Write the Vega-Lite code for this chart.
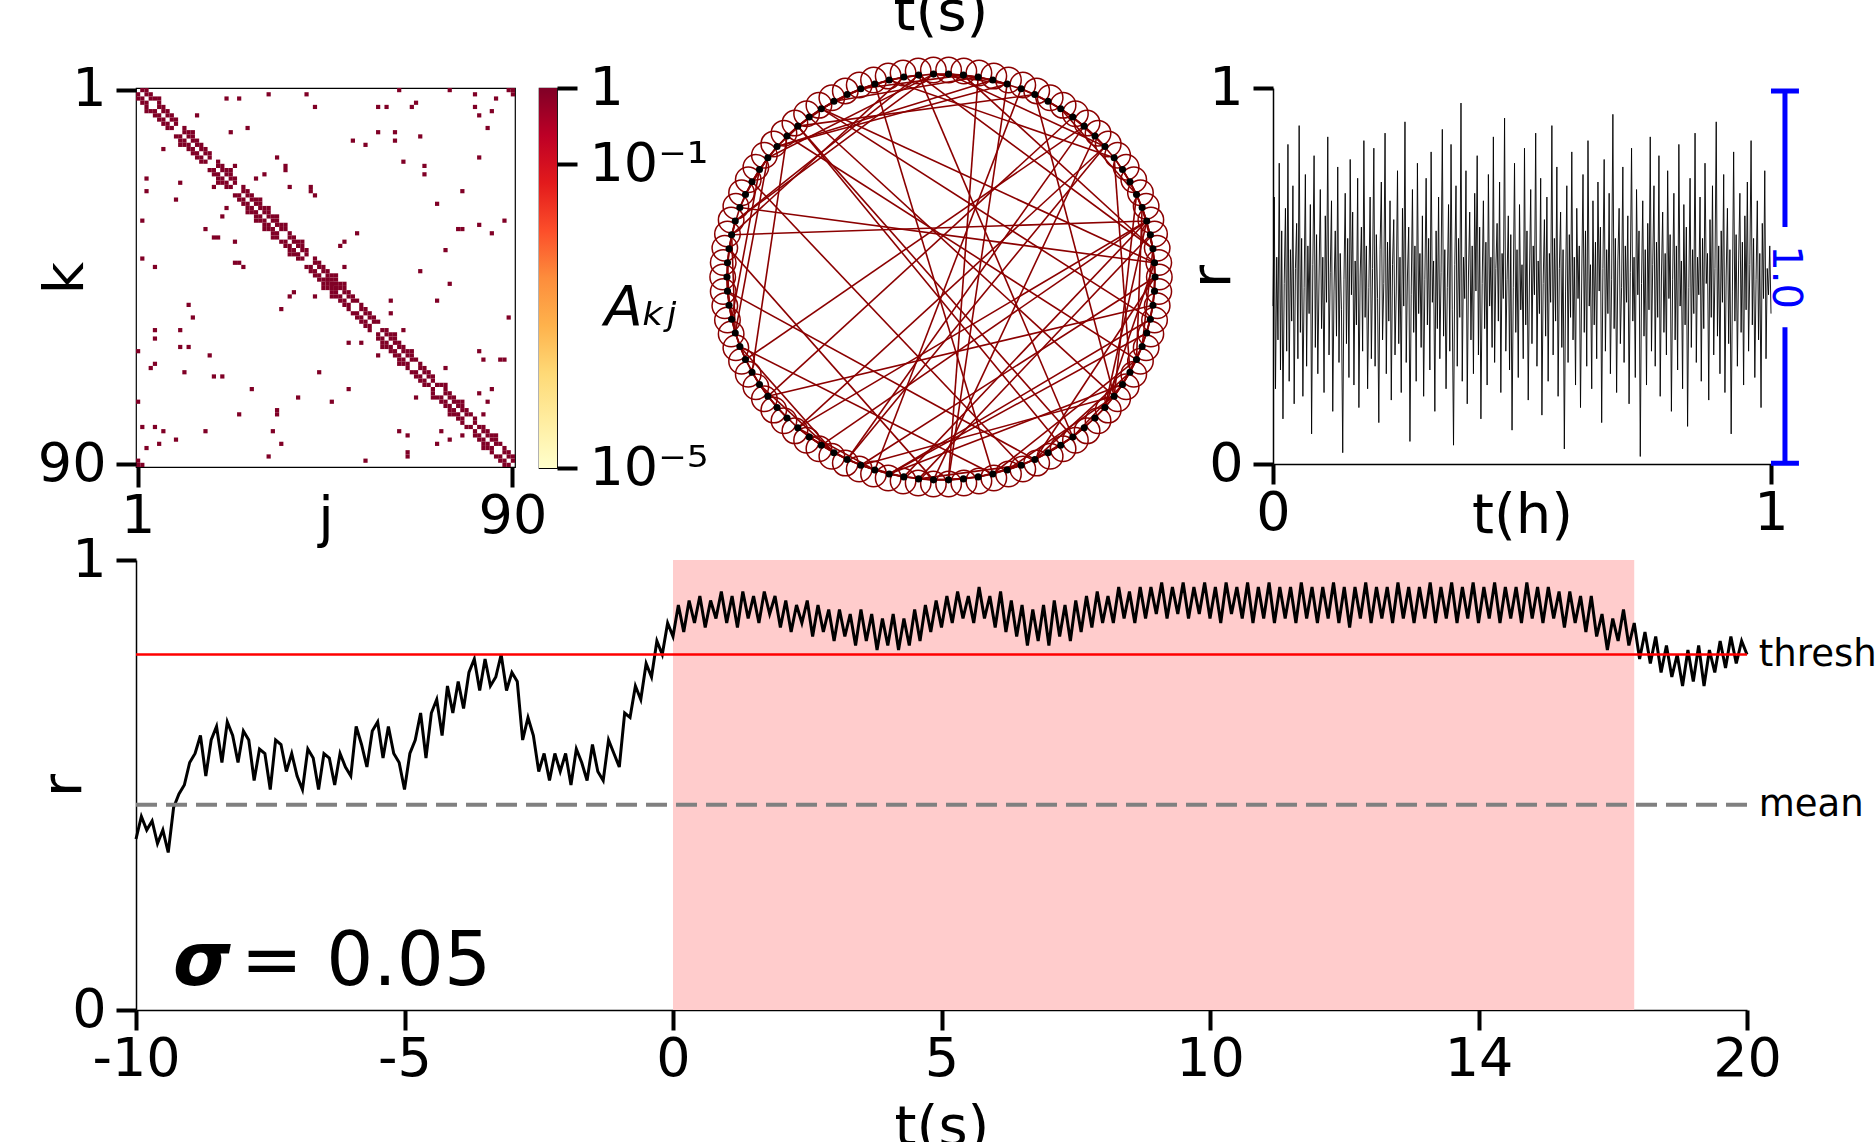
{
"$schema": "https://vega.github.io/schema/vega-lite/v6.json",
"background": "white",
"padding": {"left": 35, "top": -15, "right": 0, "bottom": 0},
"config": {
  "font": "DejaVu Sans",
  "view": {"stroke": null},
  "axis": {"grid": false, "labelFontSize": 54, "labelColor": "black", "tickColor": "black", "tickWidth": 4, "tickSize": 20, "domainColor": "black", "domainWidth": 1.5, "titleFontSize": 56, "titleFontWeight": "normal", "titleColor": "black", "labelPadding": 2, "labelFlush": false, "labelOverlap": false, "labelAngle": 0}
},
"datasets": {
  "adj": [
{"k":1,"j":3,"v":1},{"k":2,"j":4,"v":1},{"k":3,"j":5,"v":1},{"k":4,"j":6,"v":1},{"k":5,"j":7,"v":1},{"k":6,"j":8,"v":1},{"k":7,"j":9,"v":1},{"k":8,"j":10,"v":1},{"k":10,"j":12,"v":1},{"k":11,"j":13,"v":1},{"k":12,"j":14,"v":1},{"k":13,"j":15,"v":1},{"k":14,"j":16,"v":1},{"k":15,"j":17,"v":1},{"k":16,"j":18,"v":1},{"k":18,"j":20,"v":1},{"k":19,"j":21,"v":1},{"k":20,"j":22,"v":1},{"k":21,"j":23,"v":1},{"k":22,"j":24,"v":1},{"k":24,"j":26,"v":1},{"k":25,"j":27,"v":1},{"k":26,"j":28,"v":1},{"k":27,"j":29,"v":1},{"k":28,"j":30,"v":1},{"k":29,"j":31,"v":1},{"k":30,"j":32,"v":1},{"k":31,"j":33,"v":1},{"k":32,"j":34,"v":1},{"k":33,"j":35,"v":1},{"k":34,"j":36,"v":1},{"k":35,"j":37,"v":1},{"k":36,"j":38,"v":1},{"k":37,"j":39,"v":1},{"k":38,"j":40,"v":1},{"k":39,"j":41,"v":1},{"k":41,"j":43,"v":1},{"k":42,"j":44,"v":1},{"k":43,"j":45,"v":1},{"k":44,"j":46,"v":1},{"k":45,"j":47,"v":1},{"k":46,"j":48,"v":1},{"k":47,"j":49,"v":1},{"k":48,"j":50,"v":1},{"k":49,"j":51,"v":1},{"k":50,"j":52,"v":1},{"k":51,"j":53,"v":1},{"k":52,"j":54,"v":1},{"k":53,"j":55,"v":1},{"k":54,"j":56,"v":1},{"k":55,"j":57,"v":1},{"k":56,"j":58,"v":1},{"k":58,"j":60,"v":1},{"k":59,"j":61,"v":1},{"k":60,"j":62,"v":1},{"k":61,"j":63,"v":1},{"k":62,"j":64,"v":1},{"k":63,"j":65,"v":1},{"k":64,"j":66,"v":1},{"k":65,"j":67,"v":1},{"k":66,"j":68,"v":1},{"k":67,"j":69,"v":1},{"k":68,"j":70,"v":1},{"k":69,"j":71,"v":1},{"k":71,"j":73,"v":1},{"k":72,"j":74,"v":1},{"k":73,"j":75,"v":1},{"k":74,"j":76,"v":1},{"k":75,"j":77,"v":1},{"k":76,"j":78,"v":1},{"k":77,"j":79,"v":1},{"k":78,"j":80,"v":1},{"k":79,"j":81,"v":1},{"k":81,"j":83,"v":1},{"k":82,"j":84,"v":1},{"k":83,"j":85,"v":1},{"k":84,"j":86,"v":1},{"k":85,"j":87,"v":1},{"k":86,"j":88,"v":1},{"k":87,"j":89,"v":1},{"k":88,"j":90,"v":1},
{"k":1,"j":2,"v":1},{"k":2,"j":3,"v":1},{"k":3,"j":4,"v":1},{"k":5,"j":6,"v":1},{"k":6,"j":7,"v":1},{"k":7,"j":8,"v":1},{"k":8,"j":9,"v":1},{"k":9,"j":10,"v":1},{"k":11,"j":12,"v":1},{"k":12,"j":13,"v":1},{"k":13,"j":14,"v":1},{"k":14,"j":15,"v":1},{"k":15,"j":16,"v":1},{"k":16,"j":17,"v":1},{"k":17,"j":18,"v":1},{"k":19,"j":20,"v":1},{"k":20,"j":21,"v":1},{"k":21,"j":22,"v":1},{"k":22,"j":23,"v":1},{"k":23,"j":24,"v":1},{"k":25,"j":26,"v":1},{"k":26,"j":27,"v":1},{"k":27,"j":28,"v":1},{"k":28,"j":29,"v":1},{"k":29,"j":30,"v":1},{"k":30,"j":31,"v":1},{"k":31,"j":32,"v":1},{"k":32,"j":33,"v":1},{"k":33,"j":34,"v":1},{"k":34,"j":35,"v":1},{"k":36,"j":37,"v":1},{"k":37,"j":38,"v":1},{"k":38,"j":39,"v":1},{"k":39,"j":40,"v":1},{"k":40,"j":41,"v":1},{"k":42,"j":43,"v":1},{"k":43,"j":44,"v":1},{"k":44,"j":45,"v":1},{"k":45,"j":46,"v":1},{"k":46,"j":47,"v":1},{"k":47,"j":48,"v":1},{"k":48,"j":49,"v":1},{"k":49,"j":50,"v":1},{"k":50,"j":51,"v":1},{"k":51,"j":52,"v":1},{"k":53,"j":54,"v":1},{"k":54,"j":55,"v":1},{"k":55,"j":56,"v":1},{"k":56,"j":57,"v":1},{"k":58,"j":59,"v":1},{"k":59,"j":60,"v":1},{"k":60,"j":61,"v":1},{"k":61,"j":62,"v":1},{"k":62,"j":63,"v":1},{"k":63,"j":64,"v":1},{"k":64,"j":65,"v":1},{"k":65,"j":66,"v":1},{"k":67,"j":68,"v":1},{"k":68,"j":69,"v":1},{"k":69,"j":70,"v":1},{"k":70,"j":71,"v":1},{"k":71,"j":72,"v":1},{"k":73,"j":74,"v":1},{"k":74,"j":75,"v":1},{"k":75,"j":76,"v":1},{"k":76,"j":77,"v":1},{"k":77,"j":78,"v":1},{"k":78,"j":79,"v":1},{"k":80,"j":81,"v":1},{"k":81,"j":82,"v":1},{"k":82,"j":83,"v":1},{"k":83,"j":84,"v":1},{"k":84,"j":85,"v":1},{"k":85,"j":86,"v":1},{"k":87,"j":88,"v":1},{"k":88,"j":89,"v":1},{"k":89,"j":90,"v":1},
{"k":3,"j":6,"v":1},{"k":11,"j":14,"v":1},{"k":20,"j":23,"v":1},{"k":27,"j":30,"v":1},{"k":29,"j":32,"v":1},{"k":31,"j":34,"v":1},{"k":33,"j":36,"v":1},{"k":37,"j":40,"v":1},{"k":45,"j":48,"v":1},{"k":47,"j":50,"v":1},{"k":59,"j":62,"v":1},{"k":63,"j":66,"v":1},{"k":71,"j":74,"v":1},{"k":75,"j":78,"v":1},{"k":83,"j":86,"v":1},
{"k":46,"j":46,"v":1},{"k":47,"j":47,"v":1},{"k":48,"j":48,"v":1},
{"k":1,"j":63,"v":1},{"k":1,"j":75,"v":1},{"k":1,"j":89,"v":1},{"k":1,"j":90,"v":1},{"k":2,"j":90,"v":1},{"k":2,"j":32,"v":1},{"k":2,"j":41,"v":1},{"k":2,"j":81,"v":1},{"k":3,"j":22,"v":1},{"k":3,"j":25,"v":1},{"k":3,"j":86,"v":1},{"k":4,"j":67,"v":1},{"k":5,"j":43,"v":1},{"k":5,"j":58,"v":1},{"k":5,"j":60,"v":1},{"k":5,"j":66,"v":1},{"k":5,"j":81,"v":1},{"k":6,"j":85,"v":1},{"k":7,"j":15,"v":1},{"k":7,"j":82,"v":1},{"k":10,"j":27,"v":1},{"k":10,"j":84,"v":1},{"k":11,"j":23,"v":1},{"k":11,"j":58,"v":1},{"k":11,"j":62,"v":1},{"k":12,"j":68,"v":1},{"k":13,"j":52,"v":1},{"k":13,"j":62,"v":1},{"k":14,"j":55,"v":1},{"k":17,"j":34,"v":1},{"k":17,"j":82,"v":1},{"k":18,"j":64,"v":1},{"k":19,"j":24,"v":1},{"k":19,"j":36,"v":1},{"k":20,"j":36,"v":1},{"k":19,"j":69,"v":1},{"k":21,"j":31,"v":1},{"k":21,"j":69,"v":1},{"k":22,"j":29,"v":1},{"k":24,"j":37,"v":1},{"k":24,"j":42,"v":1},{"k":25,"j":42,"v":1},{"k":26,"j":43,"v":1},{"k":25,"j":78,"v":1},{"k":28,"j":72,"v":1},{"k":32,"j":88,"v":1},{"k":33,"j":82,"v":1},{"k":34,"j":77,"v":1},{"k":34,"j":78,"v":1},{"k":35,"j":85,"v":1},{"k":35,"j":53,"v":1},{"k":37,"j":50,"v":1},{"k":38,"j":49,"v":1},{"k":39,"j":74,"v":1},{"k":43,"j":50,"v":1},{"k":44,"j":68,"v":1},{"k":47,"j":75,"v":1},{"k":51,"j":61,"v":1},{"k":51,"j":72,"v":1},{"k":54,"j":61,"v":1},{"k":55,"j":89,"v":1},{"k":58,"j":64,"v":1},{"k":63,"j":82,"v":1},{"k":65,"j":83,"v":1},{"k":65,"j":87,"v":1},{"k":65,"j":88,"v":1},{"k":67,"j":74,"v":1},{"k":72,"j":85,"v":1},{"k":73,"j":82,"v":1},{"k":75,"j":84,"v":1},{"k":78,"j":83,"v":1}
  ],
  "nodes": [
{"n":1},{"n":2},{"n":3},{"n":4},{"n":5},{"n":6},{"n":7},{"n":8},{"n":9},{"n":10},{"n":11},{"n":12},{"n":13},{"n":14},{"n":15},{"n":16},{"n":17},{"n":18},{"n":19},{"n":20},{"n":21},{"n":22},{"n":23},{"n":24},{"n":25},{"n":26},{"n":27},{"n":28},{"n":29},{"n":30},{"n":31},{"n":32},{"n":33},{"n":34},{"n":35},{"n":36},{"n":37},{"n":38},{"n":39},{"n":40},{"n":41},{"n":42},{"n":43},{"n":44},{"n":45},{"n":46},{"n":47},{"n":48},{"n":49},{"n":50},{"n":51},{"n":52},{"n":53},{"n":54},{"n":55},{"n":56},{"n":57},{"n":58},{"n":59},{"n":60},{"n":61},{"n":62},{"n":63},{"n":64},{"n":65},{"n":66},{"n":67},{"n":68},{"n":69},{"n":70},{"n":71},{"n":72},{"n":73},{"n":74},{"n":75},{"n":76},{"n":77},{"n":78},{"n":79},{"n":80},{"n":81},{"n":82},{"n":83},{"n":84},{"n":85},{"n":86},{"n":87},{"n":88},{"n":89},{"n":90}
  ],
  "tr": [
{"t":0,"r":0.42},{"t":9,"r":0.71},{"t":18,"r":0.2},{"t":27,"r":0.55},{"t":36,"r":0.33},{"t":45,"r":0.8},{"t":54,"r":0.25},{"t":63,"r":0.62},{"t":72,"r":0.12},{"t":81,"r":0.48},{"t":90,"r":0.68},{"t":99,"r":0.3},{"t":108,"r":0.85},{"t":117,"r":0.22},{"t":126,"r":0.57},{"t":135,"r":0.38},{"t":144,"r":0.74},{"t":153,"r":0.16},{"t":162,"r":0.52},{"t":171,"r":0.64},
{"t":180,"r":0.28},{"t":189,"r":0.9},{"t":198,"r":0.35},{"t":207,"r":0.6},{"t":216,"r":0.18},{"t":225,"r":0.47},{"t":234,"r":0.77},{"t":243,"r":0.26},{"t":252,"r":0.58},{"t":261,"r":0.4},{"t":270,"r":0.69},{"t":279,"r":0.08},{"t":288,"r":0.53},{"t":297,"r":0.82},{"t":306,"r":0.31},{"t":315,"r":0.61},{"t":324,"r":0.24},{"t":333,"r":0.5},{"t":342,"r":0.73},{"t":351,"r":0.36},
{"t":360,"r":0.55},{"t":369,"r":0.19},{"t":378,"r":0.66},{"t":387,"r":0.43},{"t":396,"r":0.87},{"t":405,"r":0.29},{"t":414,"r":0.51},{"t":423,"r":0.7},{"t":432,"r":0.14},{"t":441,"r":0.46},{"t":450,"r":0.62},{"t":459,"r":0.34},{"t":468,"r":0.79},{"t":477,"r":0.27},{"t":486,"r":0.56},{"t":495,"r":0.41},{"t":504,"r":0.03},{"t":513,"r":0.49},{"t":522,"r":0.72},{"t":531,"r":0.32},
{"t":540,"r":0.6},{"t":549,"r":0.23},{"t":558,"r":0.81},{"t":567,"r":0.45},{"t":576,"r":0.67},{"t":585,"r":0.21},{"t":594,"r":0.54},{"t":603,"r":0.37},{"t":612,"r":0.76},{"t":621,"r":0.15},{"t":630,"r":0.5},{"t":639,"r":0.63},{"t":648,"r":0.3},{"t":657,"r":0.86},{"t":666,"r":0.39},{"t":675,"r":0.58},{"t":684,"r":0.2},{"t":693,"r":0.47},{"t":702,"r":0.71},{"t":711,"r":0.28},
{"t":720,"r":0.52},{"t":729,"r":0.84},{"t":738,"r":0.26},{"t":747,"r":0.61},{"t":756,"r":0.44},{"t":765,"r":0.11},{"t":774,"r":0.57},{"t":783,"r":0.75},{"t":792,"r":0.33},{"t":801,"r":0.48},{"t":810,"r":0.88},{"t":819,"r":0.24},{"t":828,"r":0.59},{"t":837,"r":0.38},{"t":846,"r":0.7},{"t":855,"r":0.17},{"t":864,"r":0.53},{"t":873,"r":0.65},{"t":882,"r":0.29},{"t":891,"r":0.46},
{"t":900,"r":0.78},{"t":909,"r":0.32},{"t":918,"r":0.55},{"t":927,"r":0.19},{"t":936,"r":0.68},{"t":945,"r":0.42},{"t":954,"r":0.91},{"t":963,"r":0.27},{"t":972,"r":0.5},{"t":981,"r":0.63},{"t":990,"r":0.06},{"t":999,"r":0.45},{"t":1008,"r":0.73},{"t":1017,"r":0.35},{"t":1026,"r":0.58},{"t":1035,"r":0.22},{"t":1044,"r":0.8},{"t":1053,"r":0.4},{"t":1062,"r":0.56},{"t":1071,"r":0.31},
{"t":1080,"r":0.66},{"t":1089,"r":0.18},{"t":1098,"r":0.49},{"t":1107,"r":0.76},{"t":1116,"r":0.37},{"t":1125,"r":0.6},{"t":1134,"r":0.25},{"t":1143,"r":0.83},{"t":1152,"r":0.43},{"t":1161,"r":0.54},{"t":1170,"r":0.14},{"t":1179,"r":0.62},{"t":1188,"r":0.36},{"t":1197,"r":0.71},{"t":1206,"r":0.28},{"t":1215,"r":0.51},{"t":1224,"r":0.89},{"t":1233,"r":0.34},{"t":1242,"r":0.57},{"t":1251,"r":0.2},
{"t":1260,"r":0.47},{"t":1269,"r":0.69},{"t":1278,"r":0.3},{"t":1287,"r":0.85},{"t":1296,"r":0.41},{"t":1305,"r":0.05},{"t":1314,"r":0.53},{"t":1323,"r":0.74},{"t":1332,"r":0.26},{"t":1341,"r":0.6},{"t":1350,"r":0.39},{"t":1359,"r":0.96},{"t":1368,"r":0.22},{"t":1377,"r":0.55},{"t":1386,"r":0.44},{"t":1395,"r":0.78},{"t":1404,"r":0.16},{"t":1413,"r":0.5},{"t":1422,"r":0.67},{"t":1431,"r":0.33},
{"t":1440,"r":0.58},{"t":1449,"r":0.24},{"t":1458,"r":0.72},{"t":1467,"r":0.46},{"t":1476,"r":0.82},{"t":1485,"r":0.29},{"t":1494,"r":0.63},{"t":1503,"r":0.12},{"t":1512,"r":0.48},{"t":1521,"r":0.7},{"t":1530,"r":0.36},{"t":1539,"r":0.59},{"t":1548,"r":0.21},{"t":1557,"r":0.77},{"t":1566,"r":0.42},{"t":1575,"r":0.55},{"t":1584,"r":0.31},{"t":1593,"r":0.87},{"t":1602,"r":0.27},{"t":1611,"r":0.52},
{"t":1620,"r":0.64},{"t":1629,"r":0.38},{"t":1638,"r":0.75},{"t":1647,"r":0.19},{"t":1656,"r":0.56},{"t":1665,"r":0.44},{"t":1674,"r":0.92},{"t":1683,"r":0.3},{"t":1692,"r":0.49},{"t":1701,"r":0.66},{"t":1710,"r":0.25},{"t":1719,"r":0.61},{"t":1728,"r":0.09},{"t":1737,"r":0.47},{"t":1746,"r":0.8},{"t":1755,"r":0.35},{"t":1764,"r":0.57},{"t":1773,"r":0.23},{"t":1782,"r":0.69},{"t":1791,"r":0.41},
{"t":1800,"r":0.53},{"t":1809,"r":0.28},{"t":1818,"r":0.84},{"t":1827,"r":0.37},{"t":1836,"r":0.62},{"t":1845,"r":0.17},{"t":1854,"r":0.5},{"t":1863,"r":0.73},{"t":1872,"r":0.32},{"t":1881,"r":0.58},{"t":1890,"r":0.45},{"t":1899,"r":0.88},{"t":1908,"r":0.26},{"t":1917,"r":0.54},{"t":1926,"r":0.4},{"t":1935,"r":0.76},{"t":1944,"r":0.13},{"t":1953,"r":0.48},{"t":1962,"r":0.65},{"t":1971,"r":0.34},
{"t":1980,"r":0.71},{"t":1989,"r":0.22},{"t":1998,"r":0.56},{"t":2007,"r":0.43},{"t":2016,"r":0.9},{"t":2025,"r":0.29},{"t":2034,"r":0.6},{"t":2043,"r":0.38},{"t":2052,"r":0.79},{"t":2061,"r":0.18},{"t":2070,"r":0.52},{"t":2079,"r":0.67},{"t":2088,"r":0.31},{"t":2097,"r":0.57},{"t":2106,"r":0.04},{"t":2115,"r":0.46},{"t":2124,"r":0.74},{"t":2133,"r":0.27},{"t":2142,"r":0.61},{"t":2151,"r":0.39},
{"t":2160,"r":0.83},{"t":2169,"r":0.33},{"t":2178,"r":0.55},{"t":2187,"r":0.21},{"t":2196,"r":0.68},{"t":2205,"r":0.44},{"t":2214,"r":0.58},{"t":2223,"r":0.15},{"t":2232,"r":0.5},{"t":2241,"r":0.77},{"t":2250,"r":0.35},{"t":2259,"r":0.62},{"t":2268,"r":0.26},{"t":2277,"r":0.86},{"t":2286,"r":0.42},{"t":2295,"r":0.53},{"t":2304,"r":0.2},{"t":2313,"r":0.7},{"t":2322,"r":0.37},{"t":2331,"r":0.59},
{"t":2340,"r":0.28},{"t":2349,"r":0.75},{"t":2358,"r":0.46},{"t":2367,"r":0.63},{"t":2376,"r":0.11},{"t":2385,"r":0.52},{"t":2394,"r":0.81},{"t":2403,"r":0.3},{"t":2412,"r":0.57},{"t":2421,"r":0.4},{"t":2430,"r":0.72},{"t":2439,"r":0.24},{"t":2448,"r":0.49},{"t":2457,"r":0.93},{"t":2466,"r":0.36},{"t":2475,"r":0.6},{"t":2484,"r":0.19},{"t":2493,"r":0.54},{"t":2502,"r":0.68},{"t":2511,"r":0.32},
{"t":2520,"r":0.47},{"t":2529,"r":0.79},{"t":2538,"r":0.27},{"t":2547,"r":0.58},{"t":2556,"r":0.43},{"t":2565,"r":0.66},{"t":2574,"r":0.16},{"t":2583,"r":0.51},{"t":2592,"r":0.84},{"t":2601,"r":0.38},{"t":2610,"r":0.55},{"t":2619,"r":0.23},{"t":2628,"r":0.73},{"t":2637,"r":0.45},{"t":2646,"r":0.62},{"t":2655,"r":0.02},{"t":2664,"r":0.48},{"t":2673,"r":0.7},{"t":2682,"r":0.34},{"t":2691,"r":0.57},
{"t":2700,"r":0.21},{"t":2709,"r":0.64},{"t":2718,"r":0.41},{"t":2727,"r":0.87},{"t":2736,"r":0.3},{"t":2745,"r":0.53},{"t":2754,"r":0.74},{"t":2763,"r":0.26},{"t":2772,"r":0.59},{"t":2781,"r":0.39},{"t":2790,"r":0.82},{"t":2799,"r":0.18},{"t":2808,"r":0.5},{"t":2817,"r":0.67},{"t":2826,"r":0.35},{"t":2835,"r":0.56},{"t":2844,"r":0.29},{"t":2853,"r":0.78},{"t":2862,"r":0.44},{"t":2871,"r":0.61},
{"t":2880,"r":0.14},{"t":2889,"r":0.49},{"t":2898,"r":0.72},{"t":2907,"r":0.33},{"t":2916,"r":0.58},{"t":2925,"r":0.25},{"t":2934,"r":0.85},{"t":2943,"r":0.42},{"t":2952,"r":0.54},{"t":2961,"r":0.2},{"t":2970,"r":0.69},{"t":2979,"r":0.37},{"t":2988,"r":0.63},{"t":2997,"r":0.1},{"t":3006,"r":0.47},{"t":3015,"r":0.76},{"t":3024,"r":0.31},{"t":3033,"r":0.57},{"t":3042,"r":0.4},{"t":3051,"r":0.88},
{"t":3060,"r":0.27},{"t":3069,"r":0.55},{"t":3078,"r":0.45},{"t":3087,"r":0.71},{"t":3096,"r":0.22},{"t":3105,"r":0.6},{"t":3114,"r":0.36},{"t":3123,"r":0.8},{"t":3132,"r":0.48},{"t":3141,"r":0.56},{"t":3150,"r":0.17},{"t":3159,"r":0.65},{"t":3168,"r":0.39},{"t":3177,"r":0.74},{"t":3186,"r":0.29},{"t":3195,"r":0.52},{"t":3204,"r":0.91},{"t":3213,"r":0.34},{"t":3222,"r":0.58},{"t":3231,"r":0.24},
{"t":3240,"r":0.62},{"t":3249,"r":0.43},{"t":3258,"r":0.77},{"t":3267,"r":0.19},{"t":3276,"r":0.5},{"t":3285,"r":0.68},{"t":3294,"r":0.32},{"t":3303,"r":0.57},{"t":3312,"r":0.08},{"t":3321,"r":0.46},{"t":3330,"r":0.83},{"t":3339,"r":0.38},{"t":3348,"r":0.61},{"t":3357,"r":0.26},{"t":3366,"r":0.54},{"t":3375,"r":0.72},{"t":3384,"r":0.35},{"t":3393,"r":0.59},{"t":3402,"r":0.21},{"t":3411,"r":0.66},
{"t":3420,"r":0.41},{"t":3429,"r":0.75},{"t":3438,"r":0.3},{"t":3447,"r":0.53},{"t":3456,"r":0.86},{"t":3465,"r":0.37},{"t":3474,"r":0.6},{"t":3483,"r":0.23},{"t":3492,"r":0.49},{"t":3501,"r":0.7},{"t":3510,"r":0.33},{"t":3519,"r":0.56},{"t":3528,"r":0.15},{"t":3537,"r":0.64},{"t":3546,"r":0.44},{"t":3555,"r":0.78},{"t":3564,"r":0.28},{"t":3573,"r":0.52},{"t":3582,"r":0.45},{"t":3591,"r":0.58},{"t":3600,"r":0.4}
  ],
  "bot": [
{"t":-10,"r":0.38},{"t":-9.9,"r":0.43},{"t":-9.8,"r":0.4},{"t":-9.7,"r":0.42},{"t":-9.6,"r":0.37},{"t":-9.5,"r":0.4},{"t":-9.4,"r":0.35},{"t":-9.3,"r":0.45},{"t":-9.2,"r":0.48},{"t":-9.1,"r":0.5},
{"t":-9,"r":0.55},{"t":-8.9,"r":0.57},{"t":-8.8,"r":0.61},{"t":-8.7,"r":0.52},{"t":-8.6,"r":0.6},{"t":-8.5,"r":0.63},{"t":-8.4,"r":0.55},{"t":-8.3,"r":0.64},{"t":-8.2,"r":0.61},{"t":-8.1,"r":0.55},
{"t":-8,"r":0.62},{"t":-7.9,"r":0.6},{"t":-7.8,"r":0.51},{"t":-7.7,"r":0.58},{"t":-7.6,"r":0.57},{"t":-7.5,"r":0.49},{"t":-7.4,"r":0.6},{"t":-7.3,"r":0.59},{"t":-7.2,"r":0.53},{"t":-7.1,"r":0.57},
{"t":-7,"r":0.52},{"t":-6.9,"r":0.49},{"t":-6.8,"r":0.58},{"t":-6.7,"r":0.56},{"t":-6.6,"r":0.49},{"t":-6.5,"r":0.57},{"t":-6.4,"r":0.56},{"t":-6.3,"r":0.5},{"t":-6.2,"r":0.57},{"t":-6.1,"r":0.54},
{"t":-6,"r":0.52},{"t":-5.9,"r":0.63},{"t":-5.8,"r":0.59},{"t":-5.7,"r":0.54},{"t":-5.6,"r":0.62},{"t":-5.5,"r":0.64},{"t":-5.4,"r":0.56},{"t":-5.3,"r":0.63},{"t":-5.2,"r":0.57},{"t":-5.1,"r":0.55},
{"t":-5,"r":0.49},{"t":-4.9,"r":0.57},{"t":-4.8,"r":0.6},{"t":-4.7,"r":0.66},{"t":-4.6,"r":0.56},{"t":-4.5,"r":0.66},{"t":-4.4,"r":0.69},{"t":-4.3,"r":0.61},{"t":-4.2,"r":0.72},{"t":-4.1,"r":0.66},
{"t":-4,"r":0.73},{"t":-3.9,"r":0.67},{"t":-3.8,"r":0.75},{"t":-3.7,"r":0.78},{"t":-3.6,"r":0.71},{"t":-3.5,"r":0.78},{"t":-3.4,"r":0.72},{"t":-3.3,"r":0.74},{"t":-3.2,"r":0.79},{"t":-3.1,"r":0.71},
{"t":-3,"r":0.75},{"t":-2.9,"r":0.73},{"t":-2.8,"r":0.6},{"t":-2.7,"r":0.65},{"t":-2.6,"r":0.61},{"t":-2.5,"r":0.53},{"t":-2.4,"r":0.57},{"t":-2.3,"r":0.51},{"t":-2.2,"r":0.57},{"t":-2.1,"r":0.53},
{"t":-2,"r":0.57},{"t":-1.9,"r":0.5},{"t":-1.8,"r":0.58},{"t":-1.7,"r":0.55},{"t":-1.6,"r":0.51},{"t":-1.5,"r":0.59},{"t":-1.4,"r":0.53},{"t":-1.3,"r":0.51},{"t":-1.2,"r":0.6},{"t":-1.1,"r":0.57},
{"t":-1,"r":0.54},{"t":-0.9,"r":0.66},{"t":-0.8,"r":0.65},{"t":-0.7,"r":0.72},{"t":-0.6,"r":0.69},{"t":-0.5,"r":0.77},{"t":-0.4,"r":0.74},{"t":-0.3,"r":0.82},{"t":-0.2,"r":0.79},{"t":-0.1,"r":0.86},
{"t":0,"r":0.83},{"t":0.1,"r":0.9},{"t":0.2,"r":0.84},{"t":0.3,"r":0.91},{"t":0.4,"r":0.86},{"t":0.5,"r":0.92},{"t":0.6,"r":0.85},{"t":0.7,"r":0.91},{"t":0.8,"r":0.87},{"t":0.9,"r":0.93},
{"t":1,"r":0.86},{"t":1.1,"r":0.92},{"t":1.2,"r":0.85},{"t":1.3,"r":0.93},{"t":1.4,"r":0.87},{"t":1.5,"r":0.92},{"t":1.6,"r":0.86},{"t":1.7,"r":0.93},{"t":1.8,"r":0.88},{"t":1.9,"r":0.92},
{"t":2,"r":0.85},{"t":2.1,"r":0.91},{"t":2.2,"r":0.84},{"t":2.3,"r":0.9},{"t":2.4,"r":0.86},{"t":2.5,"r":0.91},{"t":2.6,"r":0.83},{"t":2.7,"r":0.9},{"t":2.8,"r":0.84},{"t":2.9,"r":0.89},
{"t":3,"r":0.82},{"t":3.1,"r":0.89},{"t":3.2,"r":0.83},{"t":3.3,"r":0.88},{"t":3.4,"r":0.81},{"t":3.5,"r":0.89},{"t":3.6,"r":0.82},{"t":3.7,"r":0.88},{"t":3.8,"r":0.8},{"t":3.9,"r":0.87},
{"t":4,"r":0.81},{"t":4.1,"r":0.88},{"t":4.2,"r":0.8},{"t":4.3,"r":0.87},{"t":4.4,"r":0.81},{"t":4.5,"r":0.89},{"t":4.6,"r":0.82},{"t":4.7,"r":0.9},{"t":4.8,"r":0.84},{"t":4.9,"r":0.91},
{"t":5,"r":0.85},{"t":5.1,"r":0.92},{"t":5.2,"r":0.86},{"t":5.3,"r":0.93},{"t":5.4,"r":0.87},{"t":5.5,"r":0.92},{"t":5.6,"r":0.86},{"t":5.7,"r":0.94},{"t":5.8,"r":0.87},{"t":5.9,"r":0.92},
{"t":6,"r":0.85},{"t":6.1,"r":0.93},{"t":6.2,"r":0.84},{"t":6.3,"r":0.91},{"t":6.4,"r":0.83},{"t":6.5,"r":0.9},{"t":6.6,"r":0.81},{"t":6.7,"r":0.89},{"t":6.8,"r":0.82},{"t":6.9,"r":0.9},
{"t":7,"r":0.81},{"t":7.1,"r":0.91},{"t":7.2,"r":0.83},{"t":7.3,"r":0.9},{"t":7.4,"r":0.82},{"t":7.5,"r":0.91},{"t":7.6,"r":0.84},{"t":7.7,"r":0.92},{"t":7.8,"r":0.85},{"t":7.9,"r":0.93},
{"t":8,"r":0.86},{"t":8.1,"r":0.92},{"t":8.2,"r":0.86},{"t":8.3,"r":0.94},{"t":8.4,"r":0.87},{"t":8.5,"r":0.93},{"t":8.6,"r":0.86},{"t":8.7,"r":0.94},{"t":8.8,"r":0.87},{"t":8.9,"r":0.94},
{"t":9,"r":0.88},{"t":9.1,"r":0.95},{"t":9.2,"r":0.87},{"t":9.3,"r":0.94},{"t":9.4,"r":0.88},{"t":9.5,"r":0.95},{"t":9.6,"r":0.87},{"t":9.7,"r":0.94},{"t":9.8,"r":0.88},{"t":9.9,"r":0.95},
{"t":10,"r":0.87},{"t":10.1,"r":0.94},{"t":10.2,"r":0.86},{"t":10.3,"r":0.95},{"t":10.4,"r":0.88},{"t":10.5,"r":0.94},{"t":10.6,"r":0.87},{"t":10.7,"r":0.95},{"t":10.8,"r":0.86},{"t":10.9,"r":0.94},
{"t":11,"r":0.87},{"t":11.1,"r":0.95},{"t":11.2,"r":0.86},{"t":11.3,"r":0.94},{"t":11.4,"r":0.87},{"t":11.5,"r":0.94},{"t":11.6,"r":0.86},{"t":11.7,"r":0.95},{"t":11.8,"r":0.87},{"t":11.9,"r":0.94},
{"t":12,"r":0.86},{"t":12.1,"r":0.94},{"t":12.2,"r":0.87},{"t":12.3,"r":0.95},{"t":12.4,"r":0.86},{"t":12.5,"r":0.94},{"t":12.6,"r":0.85},{"t":12.7,"r":0.94},{"t":12.8,"r":0.87},{"t":12.9,"r":0.95},
{"t":13,"r":0.86},{"t":13.1,"r":0.94},{"t":13.2,"r":0.87},{"t":13.3,"r":0.94},{"t":13.4,"r":0.86},{"t":13.5,"r":0.95},{"t":13.6,"r":0.87},{"t":13.7,"r":0.94},{"t":13.8,"r":0.86},{"t":13.9,"r":0.94},
{"t":14,"r":0.87},{"t":14.1,"r":0.95},{"t":14.2,"r":0.86},{"t":14.3,"r":0.94},{"t":14.4,"r":0.87},{"t":14.5,"r":0.95},{"t":14.6,"r":0.86},{"t":14.7,"r":0.94},{"t":14.8,"r":0.87},{"t":14.9,"r":0.95},
{"t":15,"r":0.86},{"t":15.1,"r":0.94},{"t":15.2,"r":0.87},{"t":15.3,"r":0.95},{"t":15.4,"r":0.86},{"t":15.5,"r":0.94},{"t":15.6,"r":0.87},{"t":15.7,"r":0.94},{"t":15.8,"r":0.86},{"t":15.9,"r":0.95},
{"t":16,"r":0.87},{"t":16.1,"r":0.94},{"t":16.2,"r":0.86},{"t":16.3,"r":0.94},{"t":16.4,"r":0.87},{"t":16.5,"r":0.93},{"t":16.6,"r":0.85},{"t":16.7,"r":0.93},{"t":16.8,"r":0.86},{"t":16.9,"r":0.92},
{"t":17,"r":0.84},{"t":17.1,"r":0.92},{"t":17.2,"r":0.83},{"t":17.3,"r":0.88},{"t":17.4,"r":0.8},{"t":17.5,"r":0.87},{"t":17.6,"r":0.82},{"t":17.7,"r":0.89},{"t":17.8,"r":0.81},{"t":17.9,"r":0.86},
{"t":18,"r":0.78},{"t":18.1,"r":0.84},{"t":18.2,"r":0.77},{"t":18.3,"r":0.83},{"t":18.4,"r":0.75},{"t":18.5,"r":0.81},{"t":18.6,"r":0.74},{"t":18.7,"r":0.79},{"t":18.8,"r":0.72},{"t":18.9,"r":0.8},
{"t":19,"r":0.73},{"t":19.1,"r":0.81},{"t":19.2,"r":0.72},{"t":19.3,"r":0.8},{"t":19.4,"r":0.75},{"t":19.5,"r":0.82},{"t":19.6,"r":0.76},{"t":19.7,"r":0.83},{"t":19.8,"r":0.77},{"t":19.9,"r":0.82},
{"t":20,"r":0.79}
  ]
},
"vconcat": [
  {
    "hconcat": [
      {
        "width": 379, "height": 379,
        "view": {"stroke": "black", "strokeWidth": 1.2},
        "data": {"name": "adj"},
        "layer": [
          {"mark": {"type": "rect"},
           "encoding": {
             "x": {"field": "j", "type": "ordinal", "title": "j", "scale": {"domain": [1,2,3,4,5,6,7,8,9,10,11,12,13,14,15,16,17,18,19,20,21,22,23,24,25,26,27,28,29,30,31,32,33,34,35,36,37,38,39,40,41,42,43,44,45,46,47,48,49,50,51,52,53,54,55,56,57,58,59,60,61,62,63,64,65,66,67,68,69,70,71,72,73,74,75,76,77,78,79,80,81,82,83,84,85,86,87,88,89,90], "paddingInner": 0, "paddingOuter": 0},
                   "axis": {"values": [1, 90], "titleY": 24, "titleBaseline": "top", "domain": false}},
             "y": {"field": "k", "type": "ordinal", "title": "k", "scale": {"domain": [1,2,3,4,5,6,7,8,9,10,11,12,13,14,15,16,17,18,19,20,21,22,23,24,25,26,27,28,29,30,31,32,33,34,35,36,37,38,39,40,41,42,43,44,45,46,47,48,49,50,51,52,53,54,55,56,57,58,59,60,61,62,63,64,65,66,67,68,69,70,71,72,73,74,75,76,77,78,79,80,81,82,83,84,85,86,87,88,89,90], "paddingInner": 0, "paddingOuter": 0},
                   "axis": {"values": [1, 90], "titleX": -71, "titleY": 189.5, "titleAngle": -90, "titleAlign": "center", "titleBaseline": "middle", "labelPadding": 10, "domain": false}},
             "color": {"field": "v", "type": "quantitative", "scale": {"type": "log", "domain": [0.00001, 1], "range": ["#ffffcc", "#800026"]}, "legend": null}
           }},
          {"mark": {"type": "rect"},
           "encoding": {
             "x": {"field": "k", "type": "ordinal", "title": "j"},
             "y": {"field": "j", "type": "ordinal", "title": "k"},
             "color": {"field": "v", "type": "quantitative", "legend": null}
           }}
        ]
      },
      {
        "width": 18, "height": 380,
        "view": {"stroke": "black", "strokeWidth": 1.2},
        "data": {"values": [{"part": "colorbar"}]},
        "mark": {"type": "rect", "fill": {"gradient": "linear", "x1": 0, "y1": 1, "x2": 0, "y2": 0, "stops": [
          {"offset": 0, "color": "#ffffcc"}, {"offset": 0.125, "color": "#ffeda0"}, {"offset": 0.25, "color": "#fed976"}, {"offset": 0.375, "color": "#feb24c"}, {"offset": 0.5, "color": "#fd8d3c"}, {"offset": 0.625, "color": "#fc4e2a"}, {"offset": 0.75, "color": "#e31a1c"}, {"offset": 0.875, "color": "#bd0026"}, {"offset": 1, "color": "#800026"}]}},
        "encoding": {
          "y": {"datum": 0.00001, "type": "quantitative", "scale": {"type": "log", "domain": [0.00001, 1], "nice": false},
                "axis": {"orient": "right", "values": [1, 0.1, 0.00001], "labelExpr": "datum.value >= 0.5 ? '1' : (datum.value >= 0.05 ? '10⁻¹' : '10⁻⁵')", "domain": false, "labelPadding": 12, "title": "Aₖⱼ", "titleAngle": 0, "titleX": 83, "titleY": 219, "titleAlign": "center", "titleBaseline": "middle", "titleFontStyle": "italic"}},
          "y2": {"datum": 1}
        }
      },
      {
        "width": 668, "height": 379,
        "title": {"text": "t(s)", "fontSize": 56, "fontWeight": "normal", "color": "black", "baseline": "alphabetic", "offset": 27, "dy": 59, "dx": 26, "frame": "group", "anchor": "middle"},
        "layer": [
          {"data": {"name": "adj"},
           "transform": [
             {"calculate": "cos(2*PI*(datum.k-1)/90)", "as": "x1"},
             {"calculate": "sin(2*PI*(datum.k-1)/90)", "as": "y1"},
             {"calculate": "cos(2*PI*(datum.j-1)/90)", "as": "x2"},
             {"calculate": "sin(2*PI*(datum.j-1)/90)", "as": "y2"}
           ],
           "mark": {"type": "rule", "color": "#8b0000", "strokeWidth": 1.6},
           "encoding": {
             "x": {"field": "x1", "type": "quantitative", "scale": {"domain": [-1.682, 1.439], "nice": false, "zero": false}, "axis": null},
             "y": {"field": "y1", "type": "quantitative", "scale": {"domain": [-0.936, 0.931], "nice": false, "zero": false}, "axis": null},
             "x2": {"field": "x2"},
             "y2": {"field": "y2"}
           }},
          {"data": {"name": "nodes"},
           "transform": [
             {"calculate": "1.02*cos(2*PI*(datum.n-1)/90)", "as": "lx"},
             {"calculate": "1.02*sin(2*PI*(datum.n-1)/90)", "as": "ly"}
           ],
           "mark": {"type": "point", "shape": "circle", "filled": false, "size": 650, "color": "#8b0000", "strokeWidth": 1.5, "opacity": 1},
           "encoding": {
             "x": {"field": "lx", "type": "quantitative", "axis": null},
             "y": {"field": "ly", "type": "quantitative", "axis": null}
           }},
          {"data": {"name": "nodes"},
           "transform": [
             {"calculate": "cos(2*PI*(datum.n-1)/90)", "as": "nx"},
             {"calculate": "sin(2*PI*(datum.n-1)/90)", "as": "ny"}
           ],
           "mark": {"type": "point", "shape": "circle", "filled": true, "size": 50, "color": "black", "opacity": 1},
           "encoding": {
             "x": {"field": "nx", "type": "quantitative", "axis": null},
             "y": {"field": "ny", "type": "quantitative", "axis": null}
           }}
        ]
      },
      {
        "width": 498, "height": 376,
        "layer": [
          {"data": {"name": "tr"},
           "mark": {"type": "line", "color": "black", "strokeWidth": 0.9},
           "encoding": {
             "x": {"field": "t", "type": "quantitative", "title": "t(h)", "scale": {"domain": [0, 3600], "nice": false, "zero": false},
                   "axis": {"values": [0, 3600], "labelExpr": "datum.value == 0 ? '0' : '1'", "titleY": 24, "titleBaseline": "top"}},
             "y": {"field": "r", "type": "quantitative", "title": "r", "scale": {"domain": [0, 1], "nice": false},
                   "axis": {"values": [0, 1], "labelExpr": "datum.value == 0 ? '0' : '1'", "titleX": -61, "titleY": 188, "titleAngle": -90, "titleAlign": "center", "titleBaseline": "middle", "labelPadding": 10}}
           }},
          {"data": {"values": [{"part": "bar"}]},
           "mark": {"type": "rule", "color": "#0000ff", "strokeWidth": 5},
           "encoding": {"x": {"datum": 3701, "type": "quantitative", "title": "t(h)"}, "y": {"datum": 0, "type": "quantitative", "title": "r"}, "y2": {"datum": 0.364}}},
          {"data": {"values": [{"part": "bar"}]},
           "mark": {"type": "rule", "color": "#0000ff", "strokeWidth": 5},
           "encoding": {"x": {"datum": 3701, "type": "quantitative", "title": "t(h)"}, "y": {"datum": 0.63, "type": "quantitative", "title": "r"}, "y2": {"datum": 0.992}}},
          {"data": {"values": [{"part": "cap"}]},
           "mark": {"type": "rule", "color": "#0000ff", "strokeWidth": 5},
           "encoding": {"x": {"datum": 3600, "type": "quantitative", "title": "t(h)"}, "x2": {"datum": 3802}, "y": {"datum": 0.992, "type": "quantitative", "title": "r"}}},
          {"data": {"values": [{"part": "cap"}]},
           "mark": {"type": "rule", "color": "#0000ff", "strokeWidth": 5},
           "encoding": {"x": {"datum": 3600, "type": "quantitative", "title": "t(h)"}, "x2": {"datum": 3802}, "y": {"datum": 0.002, "type": "quantitative", "title": "r"}}},
          {"data": {"values": [{"part": "label"}]},
           "mark": {"type": "text", "text": "1.0", "color": "#0000ff", "fontSize": 40, "angle": 90, "align": "center", "baseline": "middle"},
           "encoding": {"x": {"datum": 3701, "type": "quantitative", "title": "t(h)"}, "y": {"datum": 0.497, "type": "quantitative", "title": "r"}}}
        ]
      }
    ],
    "spacing": 24,
    "bounds": "flush"
  },
  {
    "width": 1611, "height": 450,
    "layer": [
      {"data": {"values": [{"part": "window"}]},
       "mark": {"type": "rect", "color": "#ffcccc"},
       "encoding": {"x": {"datum": 0, "type": "quantitative", "title": "t(s)"}, "x2": {"datum": 17.9}}},
      {"data": {"name": "bot"},
       "mark": {"type": "line", "color": "black", "strokeWidth": 3},
       "encoding": {
         "x": {"field": "t", "type": "quantitative", "title": "t(s)", "scale": {"domain": [-10, 20], "nice": false, "zero": false},
               "axis": {"values": [-10, -5, 0, 5, 10, 15, 20], "labelExpr": "datum.value == 15 ? '14' : (datum.value < 0 ? '-' + abs(datum.value) : '' + datum.value)", "titleY": 90, "titleBaseline": "top"}},
         "y": {"field": "r", "type": "quantitative", "title": "r", "scale": {"domain": [0, 1], "nice": false},
               "axis": {"values": [0, 1], "labelExpr": "datum.value == 0 ? '0' : '1'", "titleX": -73, "titleY": 225, "titleAngle": -90, "titleAlign": "center", "titleBaseline": "middle", "labelPadding": 10}}
       }},
      {"data": {"values": [{"part": "thresh"}]},
       "mark": {"type": "rule", "color": "#ff0000", "strokeWidth": 2.5},
       "encoding": {"y": {"datum": 0.79, "type": "quantitative", "title": "r"}}},
      {"data": {"values": [{"part": "mean"}]},
       "mark": {"type": "rule", "color": "#808080", "strokeWidth": 4, "strokeDash": [21, 9]},
       "encoding": {"y": {"datum": 0.456, "type": "quantitative", "title": "r"}}},
      {"data": {"values": [{"part": "thresh"}]},
       "mark": {"type": "text", "text": "thresh", "fontSize": 37, "align": "left", "baseline": "middle", "color": "black"},
       "encoding": {"x": {"datum": 20.22, "type": "quantitative", "title": "t(s)"}, "y": {"datum": 0.79, "type": "quantitative", "title": "r"}}},
      {"data": {"values": [{"part": "mean"}]},
       "mark": {"type": "text", "text": "mean", "fontSize": 37, "align": "left", "baseline": "middle", "color": "black"},
       "encoding": {"x": {"datum": 20.22, "type": "quantitative", "title": "t(s)"}, "y": {"datum": 0.456, "type": "quantitative", "title": "r"}}},
      {"data": {"values": [{"part": "sigma"}]},
       "mark": {"type": "text", "text": "σ", "fontSize": 74, "fontStyle": "italic", "fontWeight": "bold", "align": "left", "baseline": "alphabetic", "color": "black"},
       "encoding": {"x": {"datum": -9.31, "type": "quantitative", "title": "t(s)"}, "y": {"datum": 0.056, "type": "quantitative", "title": "r"}}},
      {"data": {"values": [{"part": "sigma"}]},
       "mark": {"type": "text", "text": "= 0.05", "fontSize": 74, "align": "left", "baseline": "alphabetic", "color": "black"},
       "encoding": {"x": {"datum": -8.05, "type": "quantitative", "title": "t(s)"}, "y": {"datum": 0.056, "type": "quantitative", "title": "r"}}}
    ]
  }
],
"spacing": -14,
"bounds": "full"
}
